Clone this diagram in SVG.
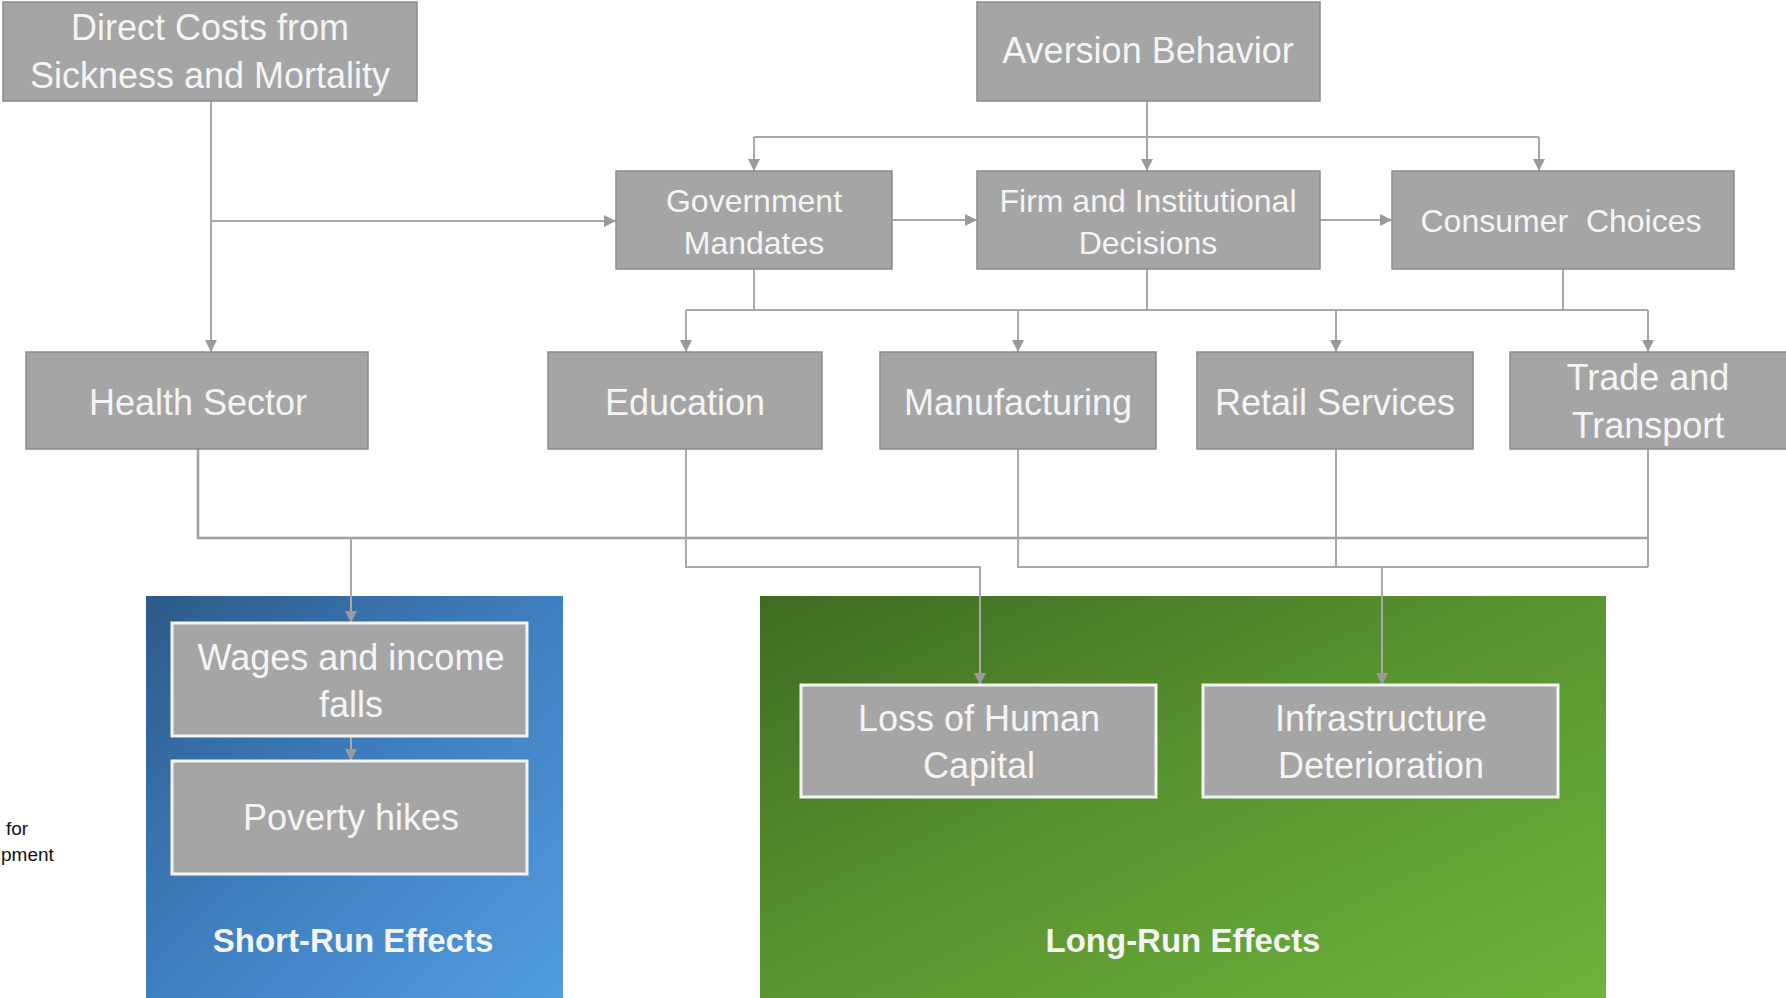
<svg xmlns="http://www.w3.org/2000/svg" width="1786" height="998" viewBox="0 0 1786 998">
<style>
.node{fill:#a5a5a5;stroke:#8a8a8a;stroke-width:1.5}
.inner{fill:#a5a5a5;stroke:#f4f4f4;stroke-width:3}
.t{font-family:"Liberation Sans",Arial,sans-serif;fill:#f4f4f4;text-anchor:middle;font-size:36px}
.tm{font-size:32px}
.tb{font-family:"Liberation Sans",Arial,sans-serif;fill:#f4f4f4;text-anchor:middle;font-size:33px;font-weight:bold}
.c{fill:none;stroke:#a8a8a8;stroke-width:2}
.c2{fill:none;stroke:#a0a0a0;stroke-width:2.5}
.side{font-family:"Liberation Sans",Arial,sans-serif;fill:#111;font-size:19px}
</style>
<defs>
<marker id="ah" markerUnits="userSpaceOnUse" markerWidth="12" markerHeight="12" refX="12" refY="6" orient="auto">
<path d="M0,0 L12,6 L0,12 z" fill="#9a9a9a"/>
</marker>
<linearGradient id="gblue" x1="0" y1="0" x2="1" y2="1">
<stop offset="0" stop-color="#2c5a88"/>
<stop offset="0.45" stop-color="#3e7cbc"/>
<stop offset="1" stop-color="#529ce0"/>
</linearGradient>
<linearGradient id="ggreen" x1="0" y1="0" x2="1" y2="1">
<stop offset="0" stop-color="#3e6b22"/>
<stop offset="0.45" stop-color="#58922f"/>
<stop offset="1" stop-color="#6eb33d"/>
</linearGradient>
</defs>
<rect width="1786" height="998" fill="#ffffff"/>

<g id="side-text">
<text class="side" x="6" y="835">for</text>
<text class="side" x="1" y="861">pment</text>
</g>

<g id="short-run">
<rect x="146" y="596" width="417" height="402" fill="url(#gblue)"/>
<text class="tb" x="353" y="952">Short-Run Effects</text>
</g>
<g id="long-run">
<rect x="760" y="596" width="846" height="402" fill="url(#ggreen)"/>
<text class="tb" x="1183" y="952">Long-Run Effects</text>
</g>

<g id="connectors">
<path class="c" d="M211,101 V352" marker-end="url(#ah)"/>
<path class="c" d="M211,221 H616" marker-end="url(#ah)"/>
<path class="c" d="M1147,101 V171" marker-end="url(#ah)"/>
<path class="c" d="M754,137 H1539"/>
<path class="c" d="M754,137 V171" marker-end="url(#ah)"/>
<path class="c" d="M1539,137 V171" marker-end="url(#ah)"/>
<path class="c" d="M892,220 H977" marker-end="url(#ah)"/>
<path class="c" d="M1320,220 H1392" marker-end="url(#ah)"/>
<path class="c" d="M754,269 V310 M1147,269 V310 M1563,269 V310 M686,310 H1648"/>
<path class="c" d="M686,310 V352" marker-end="url(#ah)"/>
<path class="c" d="M1018,310 V352" marker-end="url(#ah)"/>
<path class="c" d="M1336,310 V352" marker-end="url(#ah)"/>
<path class="c" d="M1648,310 V352" marker-end="url(#ah)"/>
<path class="c2" d="M198,449 V538 H1648"/>
<path class="c" d="M1648,449 V567 M1018,449 V567 H1648 M1336,449 V567"/>
<path class="c" d="M351,538 V623" marker-end="url(#ah)"/>
<path class="c" d="M686,449 V567 H980 V685" marker-end="url(#ah)"/>
<path class="c" d="M1382,567 V685" marker-end="url(#ah)"/>
<path class="c" d="M351,736 V761" marker-end="url(#ah)"/>
</g>

<g id="direct-costs">
<rect class="node" x="3" y="2" width="414" height="99"/>
<text class="t" x="210" y="40">Direct Costs from</text>
<text class="t" x="210" y="88">Sickness and Mortality</text>
</g>
<g id="aversion-behavior">
<rect class="node" x="977" y="2" width="343" height="99"/>
<text class="t" x="1148" y="63">Aversion Behavior</text>
</g>
<g id="government-mandates">
<rect class="node" x="616" y="171" width="276" height="98"/>
<text class="t tm" x="754" y="212">Government</text>
<text class="t tm" x="754" y="254">Mandates</text>
</g>
<g id="firm-decisions">
<rect class="node" x="977" y="171" width="343" height="98"/>
<text class="t tm" x="1148" y="212">Firm and Institutional</text>
<text class="t tm" x="1148" y="254">Decisions</text>
</g>
<g id="consumer-choices">
<rect class="node" x="1392" y="171" width="342" height="98"/>
<text class="t tm" x="1561" y="232" style="white-space:pre">Consumer  Choices</text>
</g>
<g id="health-sector">
<rect class="node" x="26" y="352" width="342" height="97"/>
<text class="t" x="198" y="415">Health Sector</text>
</g>
<g id="education">
<rect class="node" x="548" y="352" width="274" height="97"/>
<text class="t" x="685" y="415">Education</text>
</g>
<g id="manufacturing">
<rect class="node" x="880" y="352" width="276" height="97"/>
<text class="t" x="1018" y="415">Manufacturing</text>
</g>
<g id="retail-services">
<rect class="node" x="1197" y="352" width="276" height="97"/>
<text class="t" x="1335" y="415">Retail Services</text>
</g>
<g id="trade-transport">
<rect class="node" x="1510" y="352" width="280" height="97"/>
<text class="t" x="1648" y="390">Trade and</text>
<text class="t" x="1648" y="438">Transport</text>
</g>
<g id="wages">
<rect class="inner" x="172" y="623" width="355" height="113"/>
<text class="t" x="351" y="670">Wages and income</text>
<text class="t" x="351" y="717">falls</text>
</g>
<g id="poverty">
<rect class="inner" x="172" y="761" width="355" height="113"/>
<text class="t" x="351" y="830">Poverty hikes</text>
</g>
<g id="human-capital">
<rect class="inner" x="801" y="685" width="355" height="112"/>
<text class="t" x="979" y="731">Loss of Human</text>
<text class="t" x="979" y="778">Capital</text>
</g>
<g id="infrastructure">
<rect class="inner" x="1203" y="685" width="355" height="112"/>
<text class="t" x="1381" y="731">Infrastructure</text>
<text class="t" x="1381" y="778">Deterioration</text>
</g>
</svg>
